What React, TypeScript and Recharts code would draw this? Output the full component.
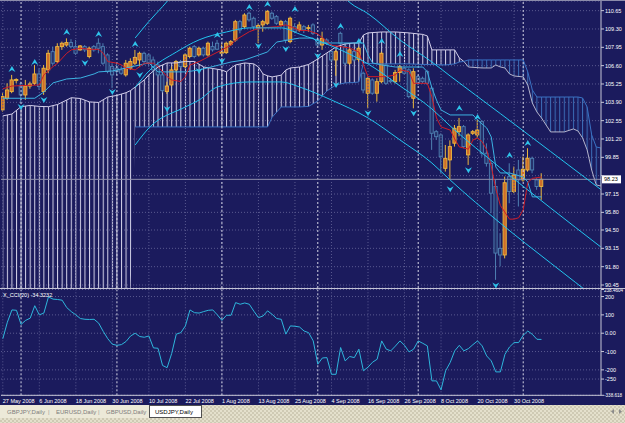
import {
  ComposedChart,
  LineChart,
  Line,
  Area,
  Bar,
  XAxis,
  YAxis,
  CartesianGrid,
  ReferenceLine
} from 'recharts'

// bar index of each time label (every 8 daily bars from 27 May 2008)
const dateTicks = [0, 8, 16, 24, 32, 40, 48, 56, 64, 72, 80, 88, 96, 104, 112]
const dateLabels = [
  '27 May 2008', '6 Jun 2008', '18 Jun 2008', '30 Jun 2008', '10 Jul 2008',
  '22 Jul 2008', '1 Aug 2008', '13 Aug 2008', '25 Aug 2008', '4 Sep 2008',
  '16 Sep 2008', '26 Sep 2008', '8 Oct 2008', '20 Oct 2008', '30 Oct 2008'
]
// first bar of each month (period separators)
const monthStarts = [4, 25, 48, 69, 91, 114]

const priceTicks = [110.65, 109.3, 107.95, 106.6, 105.25, 103.9, 102.55, 101.2, 99.85, 98.5, 97.15, 95.8, 94.5, 93.15, 91.8, 90.45]
// 98.50 is covered by the last-price box
const priceLabels = ['110.65', '109.30', '107.95', '106.60', '105.25', '103.90', '102.55', '101.20', '99.85', '', '97.15', '95.80', '94.50', '93.15', '91.80', '90.45']

const cciTicks = [238.4604, 200, 100, 0, -100, -200, -250, -338.618]
const cciLabels = ['238.4604', '200', '100', '0.00', '-100', '-200', '-250', '-338.618']

// USDJPY daily candles
const opens = [
  103.34, 104.2, 104.69, 105.5, 105.1, 104.44, 105.1, 105.3, 105.99, 104.69,
  106.29, 107.63, 106.9, 108.0, 108.12, 108.3, 108.0, 107.76, 108.0, 107.27,
  108.0, 108.25, 108.0, 107.39, 106.53, 106.41, 106.29, 105.92, 106.41, 106.78,
  107.02, 107.51, 107.39, 107.02, 106.65, 105.92, 104.69, 105.18, 106.29, 106.9,
  106.53, 107.27, 108.0, 107.39, 107.88, 107.39, 108.0, 108.25, 107.51, 107.56,
  108.18, 108.49, 109.84, 109.47, 110.46, 110.09, 109.4, 109.6, 109.72, 110.46,
  110.21, 109.6, 109.84, 108.37, 109.47, 109.23, 109.47, 109.35, 109.6, 108.55,
  108.12, 108.49, 107.63, 107.02, 108.98, 108.0, 106.78, 107.63, 107.06, 106.04,
  104.57, 105.55, 104.57, 105.42, 106.65, 105.5, 105.42, 106.09, 106.41, 106.29,
  104.2, 105.79, 105.67, 106.16, 104.94, 101.74, 101.5, 99.04, 99.66, 100.89,
  101.74, 102.11, 100.03, 101.62, 101.5, 102.48, 100.15, 99.41, 97.7, 93.15,
  92.66, 98.43, 97.33, 98.92, 98.19, 98.92, 99.78, 98.19, 97.7
]
const highs = [
  104.57, 105.3, 105.92, 105.67, 105.42, 105.55, 105.42, 106.65, 106.41, 106.65,
  107.76, 108.0, 108.25, 108.37, 108.61, 108.55, 108.49, 108.12, 108.12, 108.0,
  108.12, 108.61, 108.25, 107.51, 106.78, 106.78, 106.53, 107.02, 107.14, 107.76,
  107.63, 107.63, 107.51, 107.27, 106.9, 106.16, 105.42, 106.53, 107.02, 107.02,
  107.51, 108.0, 108.12, 108.0, 108.0, 108.37, 108.37, 108.49, 108.25, 108.37,
  108.49, 109.97, 109.97, 110.46, 110.58, 110.21, 109.72, 109.97, 110.7, 110.58,
  110.33, 109.97, 109.97, 110.21, 109.72, 109.84, 109.6, 109.6, 109.72, 108.74,
  109.1, 108.61, 107.76, 107.76, 109.1, 108.25, 107.88, 107.76, 108.0, 106.16,
  105.79, 105.67, 105.67, 107.63, 106.78, 105.67, 106.29, 106.65, 106.53, 106.41,
  106.41, 105.92, 105.79, 106.29, 105.06, 101.86, 101.62, 100.76, 101.1, 102.23,
  102.75, 102.23, 101.62, 101.86, 102.6, 102.6, 100.88, 99.66, 98.19, 94.27,
  98.43, 99.41, 99.17, 99.66, 99.9, 100.52, 99.9, 98.31, 98.68
]
const lows = [
  103.22, 104.08, 104.57, 105.3, 103.83, 104.08, 104.9, 105.18, 104.81, 104.45,
  106.04, 106.65, 106.78, 107.76, 108.0, 107.88, 107.39, 107.7, 107.6, 107.14,
  107.63, 107.51, 106.65, 106.04, 104.94, 105.92, 105.92, 105.79, 106.29, 106.65,
  106.53, 106.78, 106.53, 106.04, 105.79, 104.62, 104.52, 105.06, 106.16, 106.41,
  106.41, 107.14, 107.14, 107.27, 107.27, 107.27, 107.63, 107.76, 107.27, 107.46,
  108.05, 108.37, 108.98, 109.35, 109.84, 109.23, 108.25, 109.1, 109.6, 109.97,
  109.6, 109.47, 108.25, 108.25, 108.98, 109.1, 109.0, 109.1, 108.86, 108.0,
  107.76, 108.12, 106.9, 105.85, 108.12, 106.65, 106.65, 106.9, 106.9, 104.57,
  103.46, 104.45, 103.95, 105.3, 105.18, 105.3, 105.3, 105.42, 105.92, 104.2,
  103.46, 105.18, 105.3, 105.18, 100.4, 101.13, 98.68, 98.8, 98.2, 100.64,
  101.4, 100.52, 99.29, 101.5, 101.25, 99.9, 99.17, 95.74, 90.83, 91.82,
  92.41, 96.47, 97.21, 96.23, 98.06, 98.8, 98.68, 97.46, 96.72
]
const closes = [
  104.32, 104.81, 105.55, 105.58, 104.44, 105.1, 105.25, 105.99, 105.06, 106.41,
  107.51, 106.78, 108.0, 108.25, 108.3, 108.0, 107.51, 108.05, 107.76, 107.88,
  107.76, 107.88, 106.78, 106.16, 105.92, 106.16, 106.04, 106.78, 106.9, 107.21,
  107.51, 106.9, 106.78, 106.29, 105.92, 104.76, 105.1, 106.29, 106.9, 106.53,
  107.39, 107.88, 107.27, 107.88, 107.39, 108.25, 107.76, 107.81, 107.6, 108.25,
  108.37, 109.84, 109.23, 110.33, 109.97, 109.47, 109.55, 109.84, 110.58, 110.09,
  109.72, 109.84, 108.49, 110.09, 109.1, 109.6, 109.23, 109.4, 108.98, 108.12,
  108.61, 108.25, 107.02, 107.63, 108.25, 106.78, 107.76, 107.02, 107.88, 104.81,
  105.67, 104.57, 105.42, 107.51, 105.3, 105.42, 106.09, 106.53, 106.04, 104.32,
  106.16, 105.3, 105.42, 105.3, 101.62, 101.37, 99.9, 99.78, 100.64, 101.99,
  102.11, 100.64, 101.5, 101.74, 101.86, 100.15, 99.41, 97.21, 92.8, 92.66,
  97.98, 97.33, 98.55, 98.19, 98.97, 99.78, 98.92, 97.7, 98.23
]

const cciValues = [
  -30, 60, 127, 125, 48, 70, 82, 150, 100, 110,
  198, 186, 184, 180, 140, 118, 100, 80, 76, 75,
  76, 55, 10, -30, -60, -66, -62, -45, -15, 0,
  -18, -22, -15, -80, -82, -176, -188, -110, -5, 3,
  40, 127, 112, 110, 118, 125, 127, 100, 70, 98,
  98, 167, 158, 165, 158, 120, 85, 94, 122, 103,
  80, 76, -5, 40, 38, 34, 12, 3, -42, -169,
  -135, -133, -224, -224, -78, -151, -127, -133, -87, -205,
  -185, -158, -142, -42, -87, -96, -70, -42, -66, -102,
  -87, -42, -55, -69, -260, -260, -309, -205, -160, -96,
  -66, -96, -84, -62, -42, -69, -124, -151, -211, -211,
  -115, -75, -51, -51, -11, 12, -6, -33, -34
]

// Ichimoku lines: [bar, price]
const tenkanPts = [
  [0, 104.9], [2, 105.1], [8, 105.18], [9, 105.92], [11, 106.53], [12, 106.78], [14, 107.51], [15, 107.76],
  [17, 107.88], [19, 107.8], [21, 107.8], [22, 107.51], [23, 106.9], [25, 106.78], [26, 106.65], [27, 106.41],
  [29, 106.29], [30, 106.53], [31, 106.78], [33, 106.78], [34, 106.53], [36, 105.79], [37, 105.55], [39, 105.43],
  [40, 105.79], [41, 106.65], [43, 106.9], [48, 107.76], [50, 108.12], [51, 108.49], [54, 109.1], [56, 109.35],
  [60, 109.47], [62, 109.6], [64, 109.35], [65, 109.2], [67, 109.18], [69, 108.93], [72, 108.1], [76, 107.9],
  [78, 107.6], [79, 106.65], [80, 105.79], [84, 105.79], [86, 105.92], [87, 106.29], [89, 106.16], [90, 105.3],
  [93, 105.3], [94, 104.3], [95, 102.75], [96, 102.09], [98, 101.86], [99, 101.2], [100, 100.62], [102, 100.45],
  [103, 101.13], [104, 101.28], [105, 101.0], [106, 100.4], [107, 99.2], [108, 97.5], [109, 96.3], [110, 95.8],
  [111, 95.3], [112, 95.3], [113, 95.4], [114, 95.98], [115, 98.0], [116, 98.3], [118, 98.4]
]
const kijunPts = [
  [0, 104.2], [7, 104.2], [9, 104.66], [11, 105.33], [14, 105.62], [17, 105.69], [20, 105.99], [21, 106.14],
  [24, 106.21], [27, 106.43], [30, 106.65], [32, 106.8], [34, 106.14], [40, 106.14], [43, 106.28], [50, 106.87],
  [53, 107.02], [58, 107.61], [60, 108.34], [65, 108.63], [68, 108.63], [69, 108.27], [79, 108.27], [80, 107.39],
  [81, 106.8], [83, 106.65], [86, 106.5], [92, 106.5], [93, 106.14], [94, 104.96], [95, 104.07], [96, 103.34],
  [98, 102.97], [103, 102.97], [104, 102.6], [106, 102.01], [107, 101.35], [108, 99.14], [109, 98.7], [111, 98.7],
  [114, 98.4], [115, 98.04], [116, 96.94], [118, 96.94]
]
// cloud where span A is above span B: [bar, spanA, spanB]
const bullCloud = [
  [0, 102.9, 90.2], [2, 103.04, 90.2], [4, 103.58, 90.2], [6, 103.67, 90.2], [8, 103.6, 90.2], [10, 103.58, 90.2],
  [12, 103.74, 90.2], [14, 104.07, 90.2], [15, 104.24, 90.2], [17, 104.18, 90.2], [19, 103.93, 90.2], [21, 103.89, 90.2],
  [23, 104.29, 90.2], [25, 104.41, 90.2], [27, 104.61, 90.2], [28, 104.77, 90.2], [29, 105.03, 102.09], [31, 105.55, 102.09],
  [32, 105.92, 102.09], [34, 106.5, 102.09], [36, 106.8, 102.09], [38, 106.8, 102.09], [40, 106.91, 102.09], [42, 106.91, 102.09],
  [44, 106.5, 102.09], [46, 106.39, 102.09], [48, 106.28, 102.09], [49, 106.14, 102.09], [50, 106.43, 102.09], [51, 106.65, 102.09],
  [53, 106.8, 102.09], [55, 106.73, 102.09], [56, 106.5, 102.09], [57, 105.99, 102.09], [58, 105.85, 102.09], [59, 105.77, 102.8],
  [61, 105.9, 103.56], [62, 106.28, 103.56], [63, 106.43, 103.56], [65, 106.5, 103.56], [67, 106.69, 103.6], [69, 107.09, 104.0],
  [71, 107.54, 104.74], [73, 107.98, 105.18], [75, 108.2, 105.33], [77, 108.27, 105.36], [78, 108.27, 105.4], [79, 108.86, 106.8],
  [80, 109.01, 106.76], [83, 109.08, 106.73], [86, 109.08, 106.73], [89, 109.01, 106.73], [92, 108.9, 106.69], [93, 108.79, 106.69],
  [94, 107.76, 106.69], [97, 107.76, 106.65], [99, 107.76, 106.73], [100, 107.17, 106.87], [101, 106.91, 106.91]
]
// cloud where span B is above span A: [bar, spanA, spanB]
const bearCloud = [
  [101, 106.91, 106.91], [102, 106.5, 107.02], [105, 106.43, 107.02], [107, 106.43, 107.02], [108, 106.65, 107.02],
  [109, 106.5, 107.02], [110, 106.43, 107.02], [111, 105.99, 107.02], [112, 105.84, 107.02], [114, 105.77, 107.02],
  [115, 105.18, 106.14], [116, 103.85, 104.81], [117, 103.19, 104.29], [118, 102.75, 104.29], [120, 101.72, 104.29],
  [123, 101.72, 104.29], [125, 101.94, 104.29], [126, 101.79, 104.29], [127, 101.28, 104.22], [128, 100.4, 103.56],
  [129, 98.91, 101.5], [130, 97.82, 100.61], [131, 97.74, 100.54]
]
// regression channel: [bar, price]; null = off the top of the chart
const chanUpper = [
  [29, 108.64], [32, 109.85], [35, 110.95], [38, 112.1], [55, null], [73, 112.3], [76, 111.25], [80, 110.43],
  [87, 108.49], [94, 106.87], [98, 105.84], [109, 103.07], [120, 100.28], [131, 97.48]
]
const chanMid = [
  [29, 105.0], [32, 106.2], [38, 107.6], [43, 108.5], [49, 109.08], [54, 109.38], [61, 109.38], [65, 108.93],
  [72, 108.05], [80, 106.73], [87, 105.11], [94, 103.41], [98, 102.16], [109, 99.07], [120, 96.12], [131, 93.25]
]
const chanLower = [
  [29, 100.76], [32, 102.01], [40, 103.56], [43, 104.07], [47, 105.03], [54, 105.4], [61, 105.4], [65, 105.03],
  [72, 104.07], [80, 102.75], [87, 101.13], [94, 99.43], [98, 98.18], [109, 95.0], [120, 92.07], [131, 89.2]
]
// fractal arrows: [bar, price where drawn]
const fractalUp = [
  [2, 106.36], [7, 106.87], [14, 109.08], [21, 108.93], [29, 108.2], [47, 108.86], [54, 110.92], [58, 111.14],
  [64, 110.78], [74, 109.52], [78, 108.42], [83, 108.42], [87, 107.46], [100, 103.48], [104, 102.82], [111, 100.02], [115, 100.9]
]
const fractalDown = [
  [4, 103.56], [9, 104.07], [18, 106.8], [24, 104.66], [30, 105.92], [36, 103.41], [43, 106.21], [48, 106.95],
  [56, 108.05], [62, 107.83], [69, 107.31], [73, 105.18], [80, 103.1], [90, 103.1], [98, 97.5], [102, 98.9], [108, 90.42]
]

const candles = opens.map((o, i) => ({ i, o, h: highs[i], l: lows[i], c: closes[i] }))
const cciData = cciValues.map((v, i) => ({ i, v }))
const pts = (arr: any[]) => arr.map(([i, p]) => ({ i, p }))
const cloud = (arr: number[][]) => arr.map(([i, a, b]) => ({ i, a, b }))
const bull = cloud(bullCloud)
const bear = cloud(bearCloud)
const lastClose = closes[closes.length - 1]

const X_DOMAIN: [number, number] = [-0.394, 131.04]
const BAR_STEP = 4.565
const FONT = 'Liberation Sans, Arial, sans-serif'
const NAVY = '#1b1b5d'
const AXIS = '#c8c8d8'

function Candle(props: any) {
  const { x, y, width, height, payload } = props
  if (!payload || height == null) return <g />
  const { o, h, l, c } = payload
  const up = c >= o
  const k = h > l ? height / (h - l) : 0
  const top = y + (h - Math.max(o, c)) * k
  const bot = y + (h - Math.min(o, c)) * k
  const cx = x + width / 2
  const edge = up ? '#ecb83e' : '#4f80b2'
  return (
    <g>
      <line x1={cx} x2={cx} y1={y} y2={y + height} stroke={edge} strokeWidth={1} />
      <rect x={cx - 1.6} y={top} width={3.2} height={Math.max(bot - top, 0.8)}
        fill={up ? '#cf6e2a' : '#24316c'} stroke={edge} strokeWidth={0.9} />
    </g>
  )
}

const arrow = (dir: number) => (p: any) => {
  if (p.cx == null || p.cy == null) return <g key={p.index} />
  const { cx, cy } = p
  const d = `M${cx - 3.5},${cy + 3 * dir} L${cx},${cy - 3 * dir} L${cx + 3.5},${cy + 3 * dir} L${cx},${cy + 1 * dir} Z`
  return <path key={p.index} d={d} fill="#2ec3ea" />
}

const PriceTick = (props: any) => {
  const idx = priceTicks.indexOf(props.payload.value)
  return (
    <text x={props.x} y={props.y + 2} fontSize={5.5} fontFamily={FONT} fill="#ffffff" textAnchor="start">
      {priceLabels[idx]}
    </text>
  )
}

const CciTick = (props: any) => {
  const idx = cciTicks.indexOf(props.payload.value)
  const label = cciLabels[idx]
  // the two long extreme labels are set a little smaller so they stay inside the window
  const long = label.length > 6
  return (
    <text x={long ? props.x - 1 : props.x} y={props.y + 2} fontSize={long ? 4.6 : 5.5} fontFamily={FONT}
      fill="#ffffff" textAnchor="start">
      {label}
    </text>
  )
}

const DateTick = (props: any) => {
  const idx = dateTicks.indexOf(props.payload.value)
  return (
    <text x={props.x} y={props.y + 7.5} fontSize={5.5} fontFamily={FONT} fill="#ffffff" textAnchor="start">
      {dateLabels[idx]}
    </text>
  )
}

const PriceBox = (props: any) => {
  const vb = props.viewBox
  if (!vb) return <g />
  const x = vb.x + vb.width + 1
  return (
    <g>
      <rect x={x} y={vb.y - 4} width={19} height={8} fill="#ffffff" />
      <text x={x + 2} y={vb.y + 2} fontSize={5.5} fontFamily={FONT} fill="#000000">{lastClose.toFixed(2)}</text>
    </g>
  )
}

function MainChart() {
  return (
    <ComposedChart width={625} height={290} data={candles} margin={{ top: 1, right: 0, bottom: 2, left: 1 }}>
      <defs>
        <pattern id="hatchBull" patternUnits="userSpaceOnUse" x={2.3} y={0} width={BAR_STEP} height={8}>
          <rect x={0} y={0} width={1} height={8} fill="#d4d2e8" />
        </pattern>
        <pattern id="hatchBear" patternUnits="userSpaceOnUse" x={2.3} y={0} width={BAR_STEP} height={8}>
          <rect x={0} y={0} width={1} height={8} fill="#3b6cb6" />
        </pattern>
      </defs>
      <CartesianGrid vertical={false} stroke="#5a5a90" strokeDasharray="1 2" />
      <XAxis dataKey="i" type="number" domain={X_DOMAIN} allowDataOverflow hide />
      <YAxis orientation="right" width={24} domain={[90.23, 111.36]} allowDataOverflow ticks={priceTicks}
        interval={0} tick={PriceTick} tickSize={3} tickMargin={1}
        tickLine={{ stroke: AXIS }} axisLine={{ stroke: AXIS }} />
      {dateTicks.map((t) => (
        <ReferenceLine key={'g' + t} x={t} stroke="#5a5a90" strokeDasharray="1 2" />
      ))}
      <Area data={bull} dataKey={(d: any) => [d.b, d.a]} type="linear" stroke="none"
        fill="url(#hatchBull)" fillOpacity={1} isAnimationActive={false} />
      <Area data={bear} dataKey={(d: any) => [d.a, d.b]} type="linear" stroke="none"
        fill="url(#hatchBear)" fillOpacity={1} isAnimationActive={false} />
      <Line data={bull} dataKey="a" type="linear" stroke="#d2cdea" strokeWidth={1} dot={false} isAnimationActive={false} />
      <Line data={bull.filter((d) => d.i >= 29)} dataKey="b" type="linear" stroke="#3a72c4" strokeWidth={1} dot={false} isAnimationActive={false} />
      <Line data={bear} dataKey="a" type="linear" stroke="#b4b4cc" strokeWidth={1} dot={false} isAnimationActive={false} />
      <Line data={bear} dataKey="b" type="linear" stroke="#3a72c4" strokeWidth={1} dot={false} isAnimationActive={false} />
      {monthStarts.map((t) => (
        <ReferenceLine key={'m' + t} x={t} stroke="#d4d4e4" strokeDasharray="2 2" />
      ))}
      <ReferenceLine y={lastClose} stroke="#9090ac" label={PriceBox} />
      <Bar dataKey={(d: any) => [d.l, d.h]} barSize={4} shape={(p: any) => <Candle {...p} />} isAnimationActive={false} />
      <Line data={pts(kijunPts)} dataKey="p" type="linear" stroke="#3cb2e2" strokeWidth={1} dot={false} isAnimationActive={false} />
      <Line data={pts(tenkanPts)} dataKey="p" type="linear" stroke="#cf1d28" strokeWidth={1} dot={false} isAnimationActive={false} />
      <Line data={pts(chanUpper)} dataKey="p" type="monotone" stroke="#22c4ee" strokeWidth={1} dot={false} connectNulls={false} isAnimationActive={false} />
      <Line data={pts(chanMid)} dataKey="p" type="monotone" stroke="#22c4ee" strokeWidth={1} dot={false} isAnimationActive={false} />
      <Line data={pts(chanLower)} dataKey="p" type="monotone" stroke="#22c4ee" strokeWidth={1} dot={false} isAnimationActive={false} />
      <Line data={pts(fractalUp)} dataKey="p" stroke="none" dot={arrow(1)} isAnimationActive={false} />
      <Line data={pts(fractalDown)} dataKey="p" stroke="none" dot={arrow(-1)} isAnimationActive={false} />
    </ComposedChart>
  )
}

function CciChart() {
  return (
    <LineChart width={625} height={118} data={cciData} margin={{ top: 1.5, right: 0, bottom: 0, left: 1 }}>
      <CartesianGrid vertical={false} stroke="#5a5a90" strokeDasharray="1 2" />
      <XAxis dataKey="i" type="number" domain={X_DOMAIN} allowDataOverflow ticks={dateTicks} interval={0}
        height={10.7} tick={DateTick} tickLine={false} tickSize={0} tickMargin={0} axisLine={{ stroke: AXIS }} />
      <YAxis orientation="right" width={24} domain={[-338.618, 238.4604]} allowDataOverflow ticks={cciTicks}
        interval={0} tick={CciTick} tickSize={3} tickMargin={1}
        tickLine={{ stroke: AXIS }} axisLine={{ stroke: AXIS }} />
      {dateTicks.map((t) => (
        <ReferenceLine key={'g' + t} x={t} stroke="#5a5a90" strokeDasharray="1 2" />
      ))}
      {monthStarts.map((t) => (
        <ReferenceLine key={'m' + t} x={t} stroke="#d4d4e4" strokeDasharray="2 2" />
      ))}
      <Line dataKey="v" type="linear" stroke="#2fb6dc" strokeWidth={1} dot={false} isAnimationActive={false} />
    </LineChart>
  )
}

const tabs = ['GBPJPY,Daily', 'EURUSD,Daily', 'GBPUSD,Daily']
const tabX = [7, 56, 106]

export default function App() {
  return (
    <div style={{ position: 'absolute', left: 0, top: 0, width: 625, height: 423, background: NAVY, overflow: 'hidden' }}>
      <div style={{ position: 'absolute', left: 0, top: 0 }}>
        <MainChart />
      </div>
      <div style={{ position: 'absolute', left: 0, top: 288 }}>
        <CciChart />
      </div>
      <svg width={625} height={423} style={{ position: 'absolute', left: 0, top: 0, pointerEvents: 'none' }} fontFamily={FONT}>
        <defs>
          <pattern id="tabbg" patternUnits="userSpaceOnUse" width={4} height={4}>
            <rect width={4} height={4} fill="#e4e0cc" />
            <rect width={2} height={2} fill="#cfcab4" />
            <rect x={2} y={2} width={2} height={2} fill="#cfcab4" />
          </pattern>
        </defs>
        <line x1={0} x2={625} y1={0.5} y2={0.5} stroke="#8c8cab" />
        <line x1={0} x2={625} y1={288.5} y2={288.5} stroke="#c4c4d6" />
        <text x={3} y={297} fontSize={5.5} fill="#ffffff">X_CCI(20) -34.3232</text>
        <rect x={0} y={405} width={625} height={18} fill="url(#tabbg)" />
        <rect x={0} y={405} width={149} height={13} fill="#ece9d8" />
        {tabs.map((t, k) => (
          <text key={t} x={tabX[k]} y={413.5} fontSize={6} fill="#7c7c7c">{t}</text>
        ))}
        <text x={48} y={413.5} fontSize={6} fill="#9a9a9a">|</text>
        <text x={98} y={413.5} fontSize={6} fill="#9a9a9a">|</text>
        <rect x={149.5} y={405.5} width={52} height={12} fill="#ffffff" stroke="#505050" />
        <text x={155} y={413.5} fontSize={6} fill="#000000">USDJPY,Daily</text>
        <path d="M614,409 L611,411.5 L614,414 Z" fill="#8a8a8a" />
        <path d="M619,409 L622,411.5 L619,414 Z" fill="#8a8a8a" />
      </svg>
    </div>
  )
}
